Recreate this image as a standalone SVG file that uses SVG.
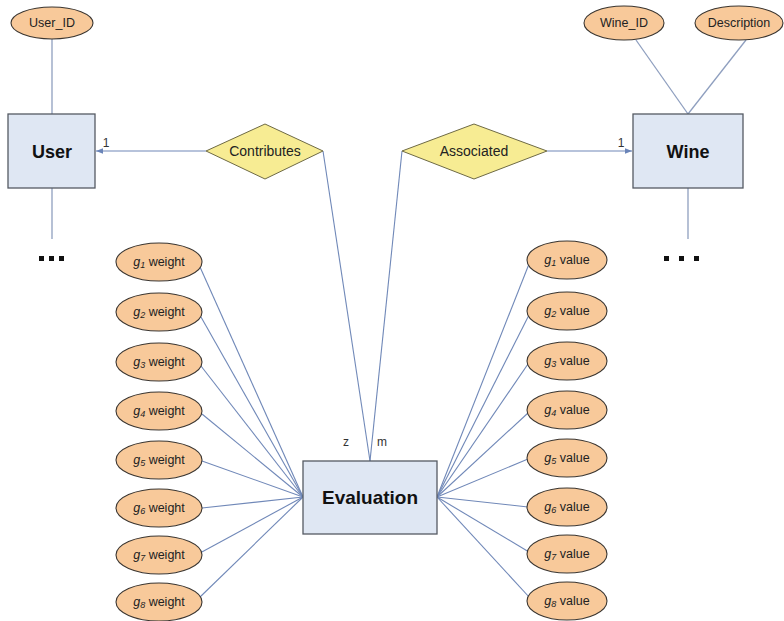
<svg xmlns="http://www.w3.org/2000/svg" width="784" height="621" viewBox="0 0 784 621">
  <defs>
    <marker id="arrow" viewBox="0 0 10 10" refX="10" refY="5" markerWidth="7" markerHeight="7" orient="auto" markerUnits="userSpaceOnUse">
      <path d="M0,1 L10,5 L0,9 z" fill="#6a84b8"/>
    </marker>
    <style>
      .bg { fill: #ffffff; }
      .link { stroke: #7088b8; stroke-width: 1.1; fill: none; }
      .attr-link { stroke: #8f9fbf; stroke-width: 1.3; fill: none; }
      .entity rect { fill: #dfe7f3; stroke: #555a63; stroke-width: 1.3; }
      .entity text { font-family: "Liberation Sans", Arial, sans-serif; font-weight: bold; font-size: 18px; fill: #111; text-anchor: middle; }
      .relation polygon { fill: #f7ec93; stroke: #6e6a45; stroke-width: 1; }
      .relation text { font-family: "Liberation Sans", Arial, sans-serif; font-size: 14px; fill: #222; text-anchor: middle; }
      .attr ellipse { fill: #f8c99a; stroke: #3a3530; stroke-width: 1.1; }
      .attr text { font-family: "Liberation Sans", Arial, sans-serif; font-size: 12.5px; fill: #222; text-anchor: middle; }
      .g { font-style: italic; }
      .sub { font-style: italic; font-size: 9px; }
      .card { font-family: "Liberation Sans", Arial, sans-serif; font-size: 12px; fill: #333; text-anchor: middle; }
      .more { fill: #111; }
    </style>
  </defs>

  <rect class="bg" x="0" y="0" width="784" height="621"/>

  <!-- connectors -->
  <g id="connectors">
    <line class="attr-link" x1="52" y1="38" x2="52" y2="114"/>
    <line class="attr-link" x1="52" y1="188" x2="52" y2="239"/>
    <line class="attr-link" x1="636" y1="40" x2="688" y2="114"/>
    <line class="attr-link" x1="746" y1="40" x2="688" y2="114"/>
    <line class="attr-link" x1="688" y1="188" x2="688" y2="239"/>

    <line class="link" x1="206" y1="151" x2="96" y2="151" marker-end="url(#arrow)"/>
    <line class="link" x1="547" y1="151" x2="632" y2="151" marker-end="url(#arrow)"/>
    <line class="link" x1="323" y1="151" x2="370" y2="461"/>
    <line class="link" x1="402" y1="151" x2="370" y2="461"/>

    <!-- weight attributes to Evaluation -->
    <line class="link" x1="200" y1="267" x2="303" y2="497"/>
    <line class="link" x1="201" y1="317" x2="303" y2="497"/>
    <line class="link" x1="201" y1="366" x2="303" y2="497"/>
    <line class="link" x1="202" y1="414" x2="303" y2="497"/>
    <line class="link" x1="202" y1="461" x2="303" y2="497"/>
    <line class="link" x1="202" y1="508" x2="303" y2="497"/>
    <line class="link" x1="200" y1="553" x2="303" y2="497"/>
    <line class="link" x1="199" y1="598" x2="303" y2="497"/>

    <!-- value attributes from Evaluation -->
    <line class="link" x1="437" y1="497" x2="529" y2="264"/>
    <line class="link" x1="437" y1="497" x2="529" y2="315"/>
    <line class="link" x1="437" y1="497" x2="528" y2="364"/>
    <line class="link" x1="437" y1="497" x2="528" y2="413"/>
    <line class="link" x1="437" y1="497" x2="528" y2="459"/>
    <line class="link" x1="437" y1="497" x2="528" y2="507"/>
    <line class="link" x1="437" y1="497" x2="529" y2="552"/>
    <line class="link" x1="437" y1="497" x2="530" y2="598"/>
  </g>

  <text class="card" x="106" y="147">1</text>
  <text class="card" x="621" y="147">1</text>
  <text class="card" x="346" y="446">z</text>
  <text class="card" x="382" y="446">m</text>

  <!-- continuation marks below User and Wine -->
  <g id="user-more" class="more">
    <rect x="39" y="256" width="5" height="5"/>
    <rect x="49" y="256" width="5" height="5"/>
    <rect x="59" y="256" width="5" height="5"/>
  </g>
  <g id="wine-more" class="more">
    <rect x="664" y="256" width="5" height="5"/>
    <rect x="679" y="256" width="5" height="5"/>
    <rect x="694" y="256" width="5" height="5"/>
  </g>

  <!-- entities -->
  <g id="user" class="entity">
    <rect x="8" y="114" width="87" height="74"/>
    <text x="52" y="158">User</text>
  </g>
  <g id="wine" class="entity">
    <rect x="633" y="114" width="110" height="74"/>
    <text x="688" y="158">Wine</text>
  </g>
  <g id="evaluation" class="entity">
    <rect x="303" y="461" width="134" height="73"/>
    <text x="370" y="504" style="font-size:19px">Evaluation</text>
  </g>

  <!-- relationships -->
  <g id="contributes" class="relation">
    <polygon points="206,151 265,124 323,151 265,179"/>
    <text x="265" y="156">Contributes</text>
  </g>
  <g id="associated" class="relation">
    <polygon points="402,151 474,124 547,151 474,179"/>
    <text x="474" y="156">Associated</text>
  </g>

  <!-- attributes of User and Wine -->
  <g id="user-id" class="attr">
    <ellipse cx="52" cy="23" rx="41" ry="16"/>
    <text x="52" y="27">User_ID</text>
  </g>
  <g id="wine-id" class="attr">
    <ellipse cx="624" cy="23" rx="40" ry="17"/>
    <text x="624" y="27">Wine_ID</text>
  </g>
  <g id="description" class="attr">
    <ellipse cx="739" cy="23" rx="44" ry="17"/>
    <text x="739" y="27">Description</text>
  </g>

  <!-- criterion weights -->
  <g id="g1-weight" class="attr"><ellipse cx="159" cy="262" rx="43" ry="19"/><text x="159" y="266"><tspan class="g">g</tspan><tspan class="sub" dy="2">1</tspan><tspan dy="-2"> weight</tspan></text></g>
  <g id="g2-weight" class="attr"><ellipse cx="159" cy="312" rx="43" ry="19"/><text x="159" y="316"><tspan class="g">g</tspan><tspan class="sub" dy="2">2</tspan><tspan dy="-2"> weight</tspan></text></g>
  <g id="g3-weight" class="attr"><ellipse cx="159" cy="362" rx="43" ry="19"/><text x="159" y="366"><tspan class="g">g</tspan><tspan class="sub" dy="2">3</tspan><tspan dy="-2"> weight</tspan></text></g>
  <g id="g4-weight" class="attr"><ellipse cx="159" cy="411" rx="43" ry="19"/><text x="159" y="415"><tspan class="g">g</tspan><tspan class="sub" dy="2">4</tspan><tspan dy="-2"> weight</tspan></text></g>
  <g id="g5-weight" class="attr"><ellipse cx="159" cy="460" rx="43" ry="19"/><text x="159" y="464"><tspan class="g">g</tspan><tspan class="sub" dy="2">5</tspan><tspan dy="-2"> weight</tspan></text></g>
  <g id="g6-weight" class="attr"><ellipse cx="159" cy="508" rx="43" ry="19"/><text x="159" y="512"><tspan class="g">g</tspan><tspan class="sub" dy="2">6</tspan><tspan dy="-2"> weight</tspan></text></g>
  <g id="g7-weight" class="attr"><ellipse cx="159" cy="555" rx="43" ry="19"/><text x="159" y="559"><tspan class="g">g</tspan><tspan class="sub" dy="2">7</tspan><tspan dy="-2"> weight</tspan></text></g>
  <g id="g8-weight" class="attr"><ellipse cx="159" cy="602" rx="43" ry="19"/><text x="159" y="606"><tspan class="g">g</tspan><tspan class="sub" dy="2">8</tspan><tspan dy="-2"> weight</tspan></text></g>

  <!-- criterion values -->
  <g id="g1-value" class="attr"><ellipse cx="567" cy="260" rx="40" ry="19"/><text x="567" y="264"><tspan class="g">g</tspan><tspan class="sub" dy="2">1</tspan><tspan dy="-2"> value</tspan></text></g>
  <g id="g2-value" class="attr"><ellipse cx="567" cy="311" rx="40" ry="19"/><text x="567" y="315"><tspan class="g">g</tspan><tspan class="sub" dy="2">2</tspan><tspan dy="-2"> value</tspan></text></g>
  <g id="g3-value" class="attr"><ellipse cx="567" cy="361" rx="40" ry="19"/><text x="567" y="365"><tspan class="g">g</tspan><tspan class="sub" dy="2">3</tspan><tspan dy="-2"> value</tspan></text></g>
  <g id="g4-value" class="attr"><ellipse cx="567" cy="410" rx="40" ry="19"/><text x="567" y="414"><tspan class="g">g</tspan><tspan class="sub" dy="2">4</tspan><tspan dy="-2"> value</tspan></text></g>
  <g id="g5-value" class="attr"><ellipse cx="567" cy="458" rx="40" ry="19"/><text x="567" y="462"><tspan class="g">g</tspan><tspan class="sub" dy="2">5</tspan><tspan dy="-2"> value</tspan></text></g>
  <g id="g6-value" class="attr"><ellipse cx="567" cy="507" rx="40" ry="19"/><text x="567" y="511"><tspan class="g">g</tspan><tspan class="sub" dy="2">6</tspan><tspan dy="-2"> value</tspan></text></g>
  <g id="g7-value" class="attr"><ellipse cx="567" cy="554" rx="40" ry="19"/><text x="567" y="558"><tspan class="g">g</tspan><tspan class="sub" dy="2">7</tspan><tspan dy="-2"> value</tspan></text></g>
  <g id="g8-value" class="attr"><ellipse cx="567" cy="601" rx="40" ry="19"/><text x="567" y="605"><tspan class="g">g</tspan><tspan class="sub" dy="2">8</tspan><tspan dy="-2"> value</tspan></text></g>
</svg>
